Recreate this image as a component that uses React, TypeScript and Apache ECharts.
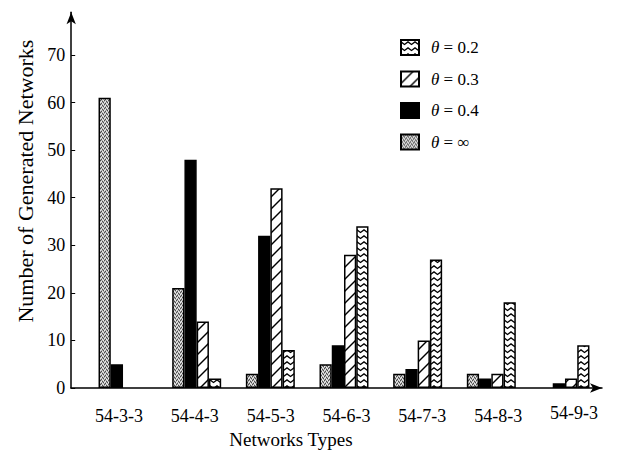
import React, { useEffect, useRef } from 'react';
import * as echarts from 'echarts';

const categories = ['54-3-3', '54-4-3', '54-5-3', '54-6-3', '54-7-3', '54-8-3', '54-9-3'];
const thetaInf = [61, 21, 3, 5, 3, 3, null];
const theta04 = [5, 48, 32, 9, 4, 2, 1];
const theta03 = [null, 14, 42, 28, 10, 3, 2];
const theta02 = [null, 2, 8, 34, 27, 18, 9];
const yTicks = [0, 10, 20, 30, 40, 50, 60, 70];
const legendOrder = ['θ = 0.2', 'θ = 0.3', 'θ = 0.4', 'θ = ∞'];

const FONT = '"Liberation Serif", "DejaVu Serif", serif';

function makeTile(w: number, h: number, draw: (ctx: CanvasRenderingContext2D) => void) {
  const c = document.createElement('canvas');
  c.width = w;
  c.height = h;
  const ctx = c.getContext('2d') as CanvasRenderingContext2D;
  draw(ctx);
  return { image: c, repeat: 'repeat', imageWidth: w, imageHeight: h } as any;
}

export default function App() {
  const ref = useRef<HTMLDivElement>(null);
  useEffect(() => {
    if (!ref.current) return;
    const chart = echarts.init(ref.current, undefined, { renderer: 'svg' });

    const stipple = makeTile(4, 4, (ctx) => {
      ctx.fillStyle = '#b0b0b0';
      ctx.fillRect(0, 0, 4, 4);
      ctx.fillStyle = '#4a4a4a';
      [[0, 0], [2, 1], [1, 3], [3, 2]].forEach(([x, y]) => ctx.fillRect(x, y, 1, 1));
      ctx.fillStyle = '#f0f0f0';
      [[1, 1], [3, 0], [0, 2], [2, 3]].forEach(([x, y]) => ctx.fillRect(x, y, 1, 1));
    });
    const hatch = makeTile(12, 12, (ctx) => {
      ctx.fillStyle = '#fff';
      ctx.fillRect(0, 0, 12, 12);
      ctx.strokeStyle = '#000';
      ctx.lineWidth = 1.4;
      [0, 12, 24].forEach((k) => {
        ctx.beginPath();
        ctx.moveTo(k + 1, -1);
        ctx.lineTo(-1, k + 1);
        ctx.stroke();
      });
    });
    const zigzag = makeTile(7, 6, (ctx) => {
      ctx.fillStyle = '#fff';
      ctx.fillRect(0, 0, 7, 6);
      ctx.strokeStyle = '#000';
      ctx.lineWidth = 1.3;
      ctx.beginPath();
      ctx.moveTo(-0.5, 1.5);
      ctx.lineTo(3.5, 4.5);
      ctx.lineTo(7.5, 1.5);
      ctx.stroke();
    });

    const border = { borderColor: '#000', borderWidth: 1.5 };
    const mk = (name: string, data: any[], color: any) => ({
      name,
      type: 'bar',
      xAxisIndex: 0,
      yAxisIndex: 0,
      data,
      barGap: '0%',
      barCategoryGap: '33.5%',
      itemStyle: { color, ...border },
    });

    chart.setOption({
      animation: false,
      backgroundColor: '#fff',
      grid: [
        { left: 86.2, right: 15.2, top: 12.2, bottom: 73 },
        { left: 71, right: 15, top: 12.2, bottom: 73 },
      ],
      legend: {
        data: legendOrder,
        orient: 'vertical',
        left: 395,
        top: 34,
        itemWidth: 18,
        itemHeight: 15,
        itemGap: 14.5,
        icon: 'rect',
        formatter: (n: string) => '{i|θ}' + n.slice(1),
        textStyle: {
          fontFamily: FONT,
          fontSize: 17,
          color: '#000',
          padding: [0, 0, 0, 7],
          rich: { i: { fontFamily: FONT, fontStyle: 'italic', fontSize: 17, color: '#000' } },
        },
      },
      xAxis: [
        {
          type: 'category',
          gridIndex: 0,
          data: categories,
          axisLine: { show: false },
          axisTick: { show: false },
          axisLabel: { show: false },
        },
        {
          type: 'category',
          gridIndex: 1,
          data: categories,
          axisLine: {
            show: true,
            symbol: ['none', 'arrow'],
            symbolSize: [7, 12],
            lineStyle: { color: '#000', width: 1.5 },
          },
          axisTick: { show: false },
          axisLabel: {
            interval: 0,
            margin: 19,
            fontFamily: FONT,
            fontSize: 18,
            color: '#000',
            padding: [0, 0, 0, 20],
            formatter: (v: string, i: number) => (i === categories.length - 1 ? '{u|' + v + '}' : v),
            rich: { u: { fontFamily: FONT, fontSize: 18, color: '#000', lineHeight: 12 } },
          },
          name: 'Networks Types',
          nameLocation: 'middle',
          nameGap: 41,
          nameTextStyle: { fontFamily: FONT, fontSize: 19, color: '#000', padding: [0, 91, 0, 0] },
        },
      ],
      yAxis: [
        {
          type: 'value',
          gridIndex: 0,
          min: 0,
          max: 79,
          interval: 10,
          offset: 15,
          axisLine: {
            show: true,
            symbol: ['none', 'arrow'],
            symbolSize: [7, 12],
            lineStyle: { color: '#000', width: 1.5 },
          },
          axisTick: { show: true, inside: true, length: 4, customValues: yTicks, lineStyle: { color: '#000' } },
          axisLabel: { customValues: yTicks, margin: 6, fontFamily: FONT, fontSize: 18, color: '#000' },
          splitLine: { show: false },
          name: 'Number of Generated Networks',
          nameLocation: 'middle',
          nameGap: 25,
          nameRotate: 90,
          nameTextStyle: { fontFamily: FONT, fontSize: 22, color: '#000', padding: [0, 0, 0, 38] },
        },
        { type: 'value', gridIndex: 1, min: 0, max: 79, show: false },
      ],
      series: [
        mk('θ = ∞', thetaInf, stipple),
        mk('θ = 0.4', theta04, '#000'),
        mk('θ = 0.3', theta03, hatch),
        mk('θ = 0.2', theta02, zigzag),
      ],
    });
    return () => chart.dispose();
  }, []);
  return <div ref={ref} style={{ position: 'fixed', left: 0, top: 0, width: 617, height: 461 }} />;
}
